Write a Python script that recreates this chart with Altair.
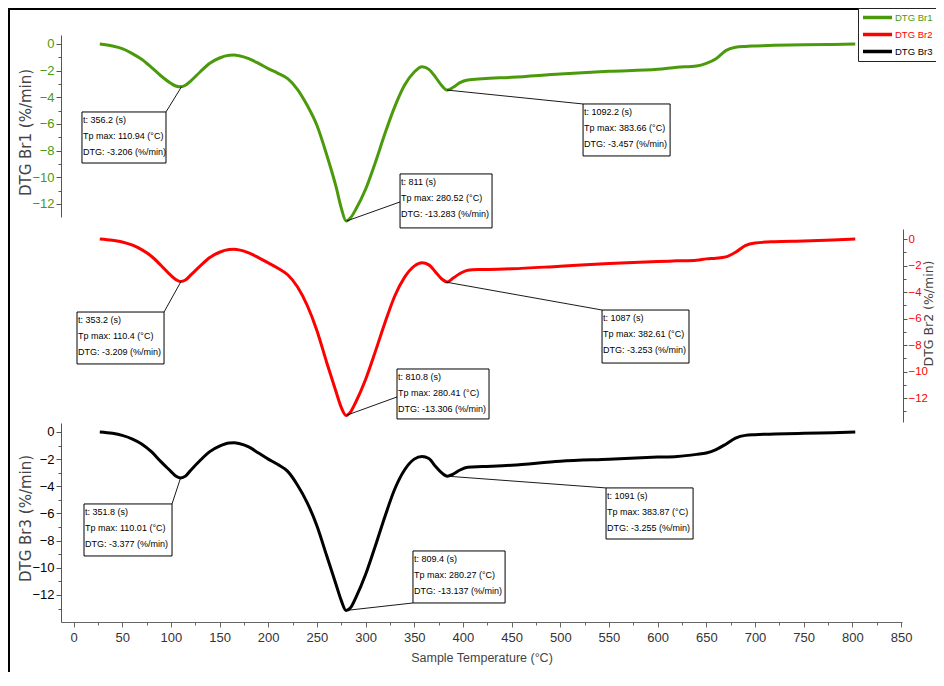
import altair as alt
import pandas as pd

# ---------------- data ----------------
temps = [27, 40, 50, 60, 70, 80, 90, 100, 105, 110, 115, 120, 130, 140, 150, 160, 165, 170,
         180, 190, 200, 210, 220, 230, 240, 250, 260, 270, 275, 280, 285, 290, 300, 310, 320,
         330, 340, 350, 358, 365, 372, 378, 384, 390, 397, 405, 420, 450, 500, 550, 600, 620,
         640, 650, 660, 670, 680, 690, 700, 720, 750, 780, 803]

dtg_br1 = [0.0, -0.15, -0.35, -0.7, -1.15, -1.75, -2.4, -2.95, -3.15, -3.21, -3.1, -2.8, -2.1,
           -1.45, -1.05, -0.85, -0.83, -0.88, -1.1, -1.45, -1.85, -2.2, -2.6, -3.4, -4.6, -6.1,
           -8.3, -10.8, -12.3, -13.28, -13.0, -12.4, -10.9, -8.9, -6.7, -4.7, -3.1, -2.1, -1.7,
           -1.9, -2.5, -3.1, -3.46, -3.25, -2.9, -2.7, -2.6, -2.5, -2.25, -2.05, -1.9, -1.75,
           -1.65, -1.45, -1.1, -0.5, -0.25, -0.18, -0.15, -0.1, -0.05, -0.03, 0.0]

dtg_br2 = [0.0, -0.1, -0.22, -0.45, -0.8, -1.3, -2.0, -2.75, -3.05, -3.21, -3.1, -2.75, -2.05,
           -1.4, -1.0, -0.8, -0.78, -0.82, -1.05, -1.4, -1.8, -2.2, -2.7, -3.6, -5.0, -6.9,
           -9.3, -11.6, -12.7, -13.31, -13.0, -12.3, -10.6, -8.5, -6.3, -4.3, -2.9, -2.05, -1.8,
           -1.95, -2.5, -3.0, -3.24, -2.95, -2.6, -2.35, -2.3, -2.25, -2.05, -1.85, -1.7, -1.65,
           -1.6, -1.5, -1.45, -1.35, -1.0, -0.5, -0.3, -0.2, -0.15, -0.08, 0.0]

dtg_br3 = [0.0, -0.1, -0.25, -0.5, -0.88, -1.45, -2.2, -2.9, -3.25, -3.38, -3.25, -2.85, -2.1,
           -1.45, -1.05, -0.82, -0.8, -0.85, -1.1, -1.55, -2.0, -2.4, -2.9, -3.9, -5.2, -6.9,
           -9.1, -11.3, -12.4, -13.14, -12.9, -12.2, -10.5, -8.4, -6.2, -4.2, -2.8, -2.0, -1.8,
           -1.95, -2.55, -3.0, -3.26, -3.1, -2.8, -2.6, -2.55, -2.45, -2.15, -2.0, -1.85, -1.8,
           -1.65, -1.55, -1.3, -0.9, -0.45, -0.25, -0.2, -0.15, -0.1, -0.05, 0.0]

series_names = ["DTG Br1", "DTG Br2", "DTG Br3"]
series_colors = ["#4a9a0c", "#ff0000", "#000000"]

x_ticks = [0, 50, 100, 150, 200, 250, 300, 350, 400, 450, 500, 550, 600, 650, 700, 750, 800, 850]
x_minor = [25, 75, 125, 175, 225, 275, 325, 375, 425, 475, 525, 575, 625, 675, 725, 775, 825]
y_ticks = [0, -2, -4, -6, -8, -10, -12]
y_minor = [-1, -3, -5, -7, -9, -11, -13]

# peak annotations
ann_series = ["DTG Br1"] * 3 + ["DTG Br2"] * 3 + ["DTG Br3"] * 3
ann_time = ["356.2", "811", "1092.2", "353.2", "810.8", "1087", "351.8", "809.4", "1091"]
ann_tp = [110.94, 280.52, 383.66, 110.4, 280.41, 382.61, 110.01, 280.27, 383.87]
ann_dtg = [-3.206, -13.283, -3.457, -3.209, -13.306, -3.253, -3.377, -13.137, -3.255]

# annotation box layout (in temperature / DTG units of each panel)
box_left = [8.7, 335.4, 523.4, 3.6, 332.3, 542.9, 10.8, 348.7, 547.0]
box_right = [95.0, 429.9, 612.8, 93.0, 426.8, 632.2, 101.2, 443.3, 636.4]
box_top = [-5.10, -9.75, -4.50, -5.51, -9.81, -5.36, -5.30, -8.76, -4.12]
box_bottom = [-8.93, -13.80, -8.40, -9.43, -13.58, -9.36, -9.13, -12.59, -7.88]
lead_x = [95.0, 335.4, 523.4, 93.0, 332.3, 542.9, 101.2, 348.7, 547.0]
lead_y = [-5.10, -11.85, -4.50, -5.51, -11.92, -5.36, -5.30, -12.59, -4.12]

# ---------------- layout ----------------
W, H = 928, 664
SANS = "Liberation Sans, Arial, sans-serif"
WIDE = "DejaVu Sans, Verdana, sans-serif"

y_domains = [[-12.98, 0.675], [-13.81, 0.755], [-13.99, 0.66]]
y_ranges = [[209, 27], [414, 221], [614, 415]]
y_orients = ["left", "right", "left"]
y_offsets = [-53, 895 - W, -53]
y_title_x = [-28, 29, -28]
y_title_y = [124, 305, 510]
y_title_base = ["bottom", "alphabetic", "bottom"]
y_title_size = [15, 12.5, 15]
y_label_size = [13, 11.5, 13]
y_tick_size = [5, 4, 5]
y_label_pad = [2, 1, 2]
x_offset = 614 - H

rows = []
for name, vals in zip(series_names, [dtg_br1, dtg_br2, dtg_br3]):
    for t, v in zip(temps, vals):
        rows.append({"T": t, "v": v, "series": name})
curve_df = pd.DataFrame(rows)

ann_df = pd.DataFrame({
    "series": ann_series,
    "tp": ann_tp,
    "dtg": ann_dtg,
    "bl": box_left, "br": box_right, "bt": box_top, "bb": box_bottom,
    "lx": lead_x, "ly": lead_y,
    "label": [f"t: {a} (s)\nTp max: {b} (°C)\nDTG: {c} (%/min)"
              for a, b, c in zip(ann_time, ann_tp, ann_dtg)],
})

xscale = alt.Scale(domain=[-12.84, 851.0], range=[53, 894], nice=False, zero=False)

x_major_axis = alt.Axis(orient="bottom", offset=x_offset, values=x_ticks, format="d",
                        title="Sample Temperature (°C)", titleFont=SANS, titleFontSize=12.5,
                        titleFontWeight="normal", titleColor="#444", titlePadding=7,
                        labelFont=SANS, labelFontSize=13, labelColor="#333", labelPadding=4,
                        tickSize=5, tickColor="#666", domainColor="#666", grid=False,
                        labelFlush=False)
x_minor_axis = alt.Axis(orient="bottom", offset=x_offset, values=x_minor, labels=False,
                        domain=False, tickSize=3, tickColor="#666", title=None, grid=False)

label_color_expr = ("datum.label === '%s' ? '%s' : datum.label === '%s' ? '%s' : '%s'"
                    % (series_names[0], series_colors[0], series_names[1], series_colors[1],
                       series_colors[2]))
legend = alt.Legend(title=None, orient="none", legendX=850, legendY=0,
                    strokeColor="#222", fillColor="white", padding=3,
                    symbolType="stroke", symbolStrokeWidth=3.5, symbolSize=841,
                    clipHeight=13, labelFont=SANS, labelFontSize=9.5, labelOffset=1,
                    rowPadding=4, labelColor=alt.ExprRef(label_color_expr))
color = alt.Color("series:N", scale=alt.Scale(domain=series_names, range=series_colors),
                  legend=legend)


def panel(i):
    name = series_names[i]
    yscale = alt.Scale(domain=y_domains[i], range=y_ranges[i], nice=False, zero=False)
    major = alt.Axis(orient=y_orients[i], offset=y_offsets[i], values=y_ticks,
                     title=f"{name} (%/min)", titleFont=WIDE, titleFontSize=y_title_size[i],
                     titleFontWeight="normal", titleColor="#444",
                     titleAngle=270, titleBaseline=y_title_base[i], titleAlign="center",
                     titleX=y_title_x[i], titleY=y_title_y[i],
                     labelFont=SANS, labelFontSize=y_label_size[i], labelColor=series_colors[i],
                     labelPadding=y_label_pad[i], tickSize=y_tick_size[i], tickColor="#555",
                     domainColor="#555", grid=False, labelFlush=False)
    minor = alt.Axis(orient=y_orients[i], offset=y_offsets[i], values=y_minor, labels=False,
                     domain=False, tickSize=3, tickColor="#555", title=None, grid=False)

    curve = alt.Chart(curve_df).transform_filter(alt.datum.series == name).mark_line(
        strokeWidth=3, interpolate="monotone").encode(
        x=alt.X("T:Q", scale=xscale, axis=x_major_axis if i == 2 else None),
        y=alt.Y("v:Q", scale=yscale, axis=major),
        color=color,
    )
    ann = alt.Chart(ann_df).transform_filter(alt.datum.series == name)
    lead = ann.mark_rule(color="black", strokeWidth=0.9).encode(
        x=alt.X("tp:Q", scale=xscale, axis=x_minor_axis if i == 2 else None),
        x2="lx:Q",
        y=alt.Y("dtg:Q", scale=yscale, axis=minor),
        y2="ly:Q",
    )
    box = ann.mark_rect(fill="white", stroke="black", strokeWidth=1).encode(
        x=alt.X("bl:Q", scale=xscale, axis=None), x2="br:Q",
        y=alt.Y("bt:Q", scale=yscale, axis=None), y2="bb:Q",
    )
    text = ann.mark_text(align="left", baseline="top", font=SANS, fontSize=9,
                         lineHeight=16, lineBreak="\n", dx=1, dy=4, color="black").encode(
        x=alt.X("bl:Q", scale=xscale, axis=None),
        y=alt.Y("bt:Q", scale=yscale, axis=None),
        text="label:N",
    )
    return alt.layer(curve, lead, box, text).resolve_axis(x="independent", y="independent")


one = pd.DataFrame({"k": [0]})
frame_top = alt.Chart(one).mark_rule(color="black", strokeWidth=2).encode(
    x=alt.value(0), x2=alt.value(W), y=alt.value(1))
frame_left = alt.Chart(one).mark_rule(color="black", strokeWidth=2).encode(
    x=alt.value(1), y=alt.value(0), y2=alt.value(H))

chart = alt.layer(frame_top, frame_left, panel(0), panel(1), panel(2)).resolve_scale(
    y="independent").resolve_axis(x="independent", y="independent").properties(
    width=W, height=H, padding=0, autosize=alt.AutoSizeParams(type="none"),
    background="white").configure_view(stroke=None)

chart.save("out.html", embed_options={"renderer": "svg", "actions": False})
